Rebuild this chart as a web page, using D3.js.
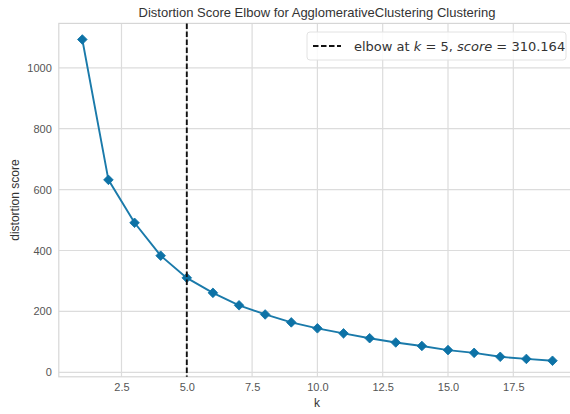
<!DOCTYPE html>
<html><head><meta charset="utf-8">
<script src="https://cdn.jsdelivr.net/npm/d3@7"></script>
<style>
html,body{margin:0;padding:0;background:#fff;overflow:hidden;}
svg{display:block;font-family:"Liberation Sans",Arial,sans-serif;}
</style></head>
<body>
<svg id="c" width="570" height="414"></svg>
<script>
const ks = [1,2,3,4,5,6,7,8,9,10,11,12,13,14,15,16,17,18,19];
const scores = [1093,632,491,383,310.164,261,220,190,164,144.5,128,112,98,86.5,73,64,51,44,38];
const xTicks = [2.5,5.0,7.5,10.0,12.5,15.0,17.5];
const yTicks = [0,200,400,600,800,1000];
const elbowK = 5, elbowScore = 310.164;
const titleText = "Distortion Score Elbow for AgglomerativeClustering Clustering";

const svg = d3.select("#c");
const L = 58.8, R = 576, T = 23.4, B = 376.8;
const x = d3.scaleLinear().domain([0.1, 19.9]).range([L, R]);
const y = d3.scaleLinear().domain([-14.7, 1145.8]).range([B, T]);

const g = svg.append("g");
// grid
g.selectAll(".gx").data(xTicks).join("line")
  .attr("x1", d=>x(d)).attr("x2", d=>x(d)).attr("y1", T).attr("y2", B)
  .attr("stroke", "#dcdcdc").attr("stroke-width", 1.2);
g.selectAll(".gy").data(yTicks).join("line")
  .attr("y1", d=>y(d)).attr("y2", d=>y(d)).attr("x1", L).attr("x2", R)
  .attr("stroke", "#dcdcdc").attr("stroke-width", 1.2);
// frame
g.append("rect").attr("x", L).attr("y", T).attr("width", R-L).attr("height", B-T)
  .attr("fill", "none").attr("stroke", "#d6d6d6").attr("stroke-width", 1.2);

// axes labels via d3 axes
const xAxis = d3.axisBottom(x).tickValues(xTicks).tickFormat(d3.format(".1f")).tickSize(0).tickPadding(6);
const yAxis = d3.axisLeft(y).tickValues(yTicks).tickFormat(d3.format("d")).tickSize(0).tickPadding(7);
const ax = svg.append("g").attr("transform", `translate(0,${B})`).call(xAxis);
const ay = svg.append("g").attr("transform", `translate(${L},0)`).call(yAxis);
[ax, ay].forEach(a => {
  a.select(".domain").remove();
  a.selectAll("text").attr("fill", "#555").attr("font-size", 11)
   .attr("font-family", '"Liberation Sans",Arial,sans-serif');
});

// line
const lineGen = d3.line().x((d,i)=>x(ks[i])).y(d=>y(d));
svg.append("path").datum(scores).attr("d", lineGen)
  .attr("fill", "none").attr("stroke", "#1a7aaa").attr("stroke-width", 1.9);
svg.selectAll(".m").data(scores).join("path")
  .attr("d", d3.symbol().type(d3.symbolSquare).size(46))
  .attr("transform", (d,i)=>`translate(${x(ks[i])},${y(d)}) rotate(45)`)
  .attr("fill", "#0d72a6").attr("stroke", "#0d72a6").attr("stroke-width", 0.8);

// elbow line
svg.append("line").attr("x1", x(elbowK)).attr("x2", x(elbowK)).attr("y1", T).attr("y2", B)
  .attr("stroke", "#111").attr("stroke-width", 1.9).attr("stroke-dasharray", "5.5,2.5");

// legend
const lg = svg.append("g");
lg.append("rect").attr("x", 307).attr("y", 32).attr("width", 259).attr("height", 28).attr("rx", 3)
  .attr("fill", "rgba(255,255,255,0.85)").attr("stroke", "#e2e2e2").attr("stroke-width", 1);
lg.append("line").attr("x1", 313).attr("x2", 341).attr("y1", 46).attr("y2", 46)
  .attr("stroke", "#111").attr("stroke-width", 1.9).attr("stroke-dasharray", "5.5,2.5");
const lt = lg.append("text").attr("x", 354).attr("y", 50.5).attr("font-size", 13).attr("fill", "#333")
  .attr("font-family", '"DejaVu Sans",sans-serif');
lt.append("tspan").text("elbow at ");
lt.append("tspan").attr("font-style", "italic").text("k");
lt.append("tspan").text(" = " + elbowK + ", ");
lt.append("tspan").attr("font-style", "italic").text("score");
lt.append("tspan").text(" = " + elbowScore.toFixed(3));

// title and axis titles
svg.append("text").attr("x", 317).attr("y", 17).attr("text-anchor", "middle")
  .attr("font-size", 13).attr("fill", "#333").text(titleText);
svg.append("text").attr("x", 317).attr("y", 407).attr("text-anchor", "middle")
  .attr("font-size", 12).attr("fill", "#333").text("k");
svg.append("text").attr("transform", `translate(19,${(T+B)/2}) rotate(-90)`).attr("text-anchor", "middle")
  .attr("font-size", 12).attr("fill", "#333").text("distortion score");
</script>
</body></html>
